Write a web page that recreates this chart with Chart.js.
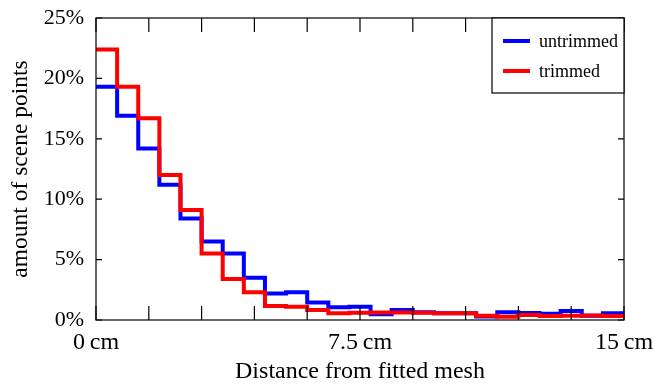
<!DOCTYPE html>
<html>
<head>
<meta charset="utf-8">
<script src="https://cdn.jsdelivr.net/npm/chart.js@4"></script>
<style>
  html, body { margin: 0; padding: 0; background: #fff; }
  #wrap { width: 654px; height: 387px; }
</style>
</head>
<body>
<div id="wrap"><canvas id="histChart" width="654" height="387"></canvas></div>
<script>
// bin edges in cm (last edge closes the final step)
const binEdges = [0, 0.6, 1.2, 1.8, 2.4, 3.0, 3.6, 4.2, 4.8, 5.4, 6.0, 6.6, 7.2, 7.8,
                  8.4, 9.0, 9.6, 10.2, 10.8, 11.4, 12.0, 12.6, 13.2, 13.8, 14.4, 15.0];

// percentage of scene points in each bin
const untrimmed = [19.3, 16.9, 14.2, 11.2, 8.4, 6.5, 5.5, 3.5, 2.2, 2.3, 1.45, 1.05, 1.1,
                   0.47, 0.83, 0.64, 0.55, 0.55, 0.3, 0.64, 0.58, 0.52, 0.75, 0.35, 0.55];
const trimmed = [22.4, 19.3, 16.7, 12.0, 9.1, 5.5, 3.4, 2.3, 1.16, 1.1, 0.83, 0.55, 0.6,
                 0.62, 0.62, 0.6, 0.55, 0.55, 0.36, 0.27, 0.41, 0.33, 0.36, 0.38, 0.33];

const xLabelTicks = [0, 7.5, 15]; // only these x ticks get a label
const seriesNames = ['untrimmed', 'trimmed'];
const seriesColors = ['#0000ff', '#ff0000'];

const serif = '"Liberation Serif", "DejaVu Serif", serif';

// turn bin values into step points
function toSteps(values) {
    return binEdges.map((x, i) => ({ x: x, y: values[Math.min(i, values.length - 1)] }));
}

// box around the plot, inward tick marks and the legend
const framePlugin = {
    id: 'frame',
    afterDraw(chart) {
        const ctx = chart.ctx;
        const a = chart.chartArea;
        const xs = chart.scales.x;
        const ys = chart.scales.y;
        ctx.save();
        ctx.strokeStyle = '#000';
        ctx.lineWidth = 1.2;
        ctx.strokeRect(a.left, a.top, a.right - a.left, a.bottom - a.top);

        ctx.beginPath();
        xs.ticks.forEach(t => {
            const px = xs.getPixelForValue(t.value);
            ctx.moveTo(px, a.bottom); ctx.lineTo(px, a.bottom - 14);
            ctx.moveTo(px, a.top); ctx.lineTo(px, a.top + 14);
        });
        ys.ticks.forEach(t => {
            const py = ys.getPixelForValue(t.value);
            ctx.moveTo(a.left, py); ctx.lineTo(a.left + 6, py);
            ctx.moveTo(a.right, py); ctx.lineTo(a.right - 6, py);
        });
        ctx.stroke();

        // legend
        const lx = 492, ly = a.top, lw = a.right - lx, lh = 75;
        ctx.fillStyle = '#fff';
        ctx.fillRect(lx, ly, lw, lh);
        ctx.strokeRect(lx, ly, lw, lh);
        ctx.font = '18px ' + serif;
        ctx.textBaseline = 'middle';
        ctx.textAlign = 'left';
        seriesNames.forEach((name, i) => {
            const yy = ly + 23 + i * 30;
            ctx.strokeStyle = seriesColors[i];
            ctx.lineWidth = 4;
            ctx.beginPath();
            ctx.moveTo(lx + 11, yy);
            ctx.lineTo(lx + 38, yy);
            ctx.stroke();
            ctx.fillStyle = '#000';
            ctx.fillText(name, lx + 47, yy + 1);
        });
        ctx.restore();
    }
};

const ctx = document.getElementById('histChart').getContext('2d');

const myChart = new Chart(ctx, {
    type: 'line',
    data: {
        datasets: [{
            label: seriesNames[0],
            data: toSteps(untrimmed),
            borderColor: seriesColors[0],
            borderWidth: 4,
            stepped: 'before',
            pointRadius: 0,
            fill: false,
            order: 1
        }, {
            label: seriesNames[1],
            data: toSteps(trimmed),
            borderColor: seriesColors[1],
            borderWidth: 4,
            stepped: 'before',
            pointRadius: 0,
            fill: false,
            order: 0
        }]
    },
    options: {
        responsive: false,
        animation: false,
        layout: { padding: { top: 18, right: 30, left: 0, bottom: 0 } },
        plugins: {
            legend: { display: false },
            tooltip: { enabled: false }
        },
        scales: {
            x: {
                type: 'linear',
                min: 0,
                max: 15,
                grid: { display: false, drawTicks: false },
                border: { display: false },
                ticks: {
                    stepSize: 1.5,
                    autoSkip: false,
                    maxRotation: 0,
                    padding: 8,
                    color: '#000',
                    font: { family: serif, size: 24 },
                    callback: function (value) {
                        return xLabelTicks.includes(value) ? value + '\u2009cm' : '';
                    }
                },
                title: {
                    display: true,
                    text: 'Distance from fitted mesh',
                    color: '#000',
                    font: { family: serif, size: 24 },
                    padding: { top: 0, bottom: 1 }
                },
                afterFit: s => {
                    s.height = 67;
                    s.paddingLeft = 0;
                    s.paddingRight = 0;
                }
            },
            y: {
                min: 0,
                max: 25,
                grid: { display: false, drawTicks: false },
                border: { display: false },
                ticks: {
                    stepSize: 5,
                    padding: 12,
                    color: '#000',
                    font: { family: serif, size: 22 },
                    callback: value => value + '%'
                },
                title: {
                    display: true,
                    text: 'amount of scene points',
                    color: '#000',
                    font: { family: serif, size: 23.5 },
                    padding: { top: 7, bottom: 0 }
                },
                afterFit: s => {
                    s.width = 96;
                    s.paddingTop = 0;
                    s.paddingBottom = 0;
                }
            }
        }
    },
    plugins: [framePlugin]
});
</script>
</body>
</html>
